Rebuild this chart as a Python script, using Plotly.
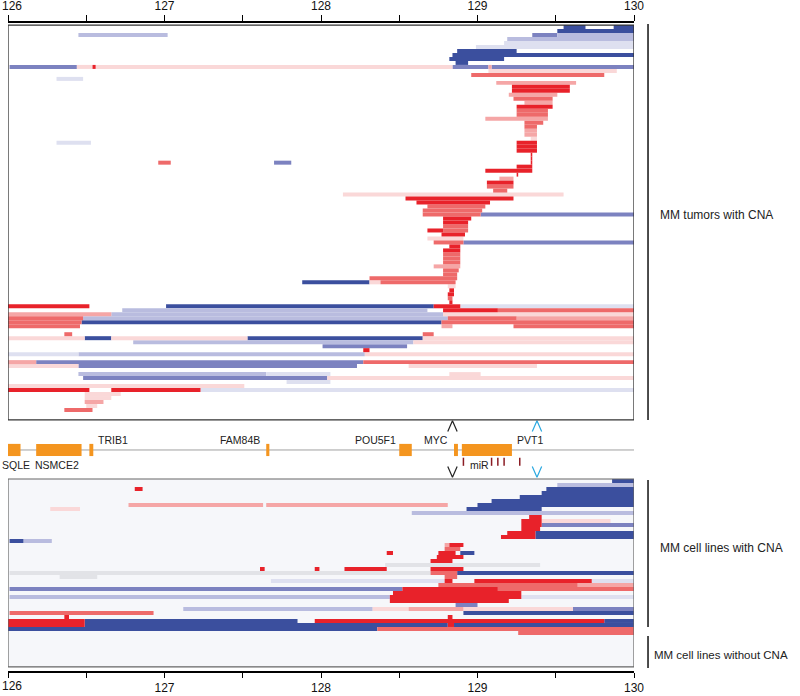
import plotly.graph_objects as go

# ---------------- data ----------------
x_ticks = [126, 126.5, 127, 127.5, 128, 128.5, 129, 129.5, 130]
x_tick_labels = ["", "", "127", "", "128", "", "129", "", "130"]
first_tick_label = "126"

# copy-number level codes: -4 deep loss ... -1 slight loss, 0 neutral, 1 slight gain ... 4 high gain
# MM tumors with CNA (one list entry per tumor, top to bottom)
tumor_starts = [
    [129.55, 129.87], [129.51], [126.45, 129.35, 129.51], [129.19], [129.17], [128.99],
    [128.87], [128.84], [128.82], [128.86],
    [126.01, 126.44, 126.54, 126.56, 128.84, 129.07, 129.09],
    [129.07], [128.96], [126.31], [129.12], [129.22], [129.22], [129.20], [129.23], [129.30],
    [129.25], [129.25], [129.25], [129.05], [129.30], [129.30], [129.30], [129.30], [129.34],
    [126.31, 129.25], [129.25], [129.25], [129.34], [129.34], [126.96, 127.70, 129.34],
    [129.25], [129.05], [129.25], [129.14], [129.06], [129.06], [129.10], [128.14], [128.54],
    [128.61], [128.68], [128.65], [128.65, 129.02], [128.78], [128.78], [128.78],
    [128.68, 128.78], [128.77], [128.68], [128.72, 128.91], [128.82], [128.78], [128.78],
    [128.78], [128.78], [128.72], [128.78], [128.78], [128.31], [127.88, 128.31, 128.38],
    [128.81], [128.82], [128.81], [128.81], [128.82],
    [126.00, 127.01, 128.72, 128.89], [126.73, 128.78, 129.13], [126.00, 126.66, 128.78],
    [126.00, 126.48, 128.81, 129.25], [126.00, 126.47, 128.77], [126.00, 128.77, 129.23],
    [], [126.36, 128.65], [126.00, 126.49, 126.66, 127.53, 128.65], [126.80, 128.59],
    [128.01], [128.27], [126.00, 126.45, 128.28], [], [126.00, 126.18, 128.27],
    [126.00, 126.45, 128.56], [], [126.45, 127.65, 128.82], [126.48, 128.04], [127.78],
    [126.00], [126.00, 126.66, 127.23], [126.49], [126.49], [126.49], [126.50], [126.36],
    [], [],
]
tumor_ends = [
    [129.69, 130.0], [130.0], [127.02, 129.51, 130.0], [130.0], [130.0], [130.0],
    [129.25], [130.0], [129.17], [128.94],
    [126.44, 126.54, 126.56, 128.84, 129.07, 129.09, 130.0],
    [129.89], [129.81], [126.48], [129.63], [129.59], [129.59], [129.51], [129.48], [129.48],
    [129.48], [129.45], [129.45], [129.45], [129.42], [129.38], [129.38], [129.38], [129.38],
    [126.53, 129.38], [129.38], [129.38], [129.35], [129.35], [127.04, 127.81, 129.35],
    [129.35], [129.35], [129.26], [129.23], [129.23], [129.23], [129.19], [129.55], [129.23],
    [129.08], [129.05], [129.03], [129.02, 130.0], [128.96], [128.94], [128.94],
    [128.78, 128.94], [128.92], [128.91], [128.91, 130.0], [128.89], [128.89], [128.89],
    [128.89], [128.89], [128.89], [128.88], [128.87], [128.87], [128.31, 128.38, 128.86],
    [128.86], [128.85], [128.85], [128.84], [128.84],
    [126.52, 128.72, 128.89, 130.0], [128.68, 129.13, 130.0], [126.66, 128.78, 130.0],
    [126.48, 128.81, 129.25, 130.0], [126.47, 128.77, 130.0], [126.46, 128.84, 130.0],
    [], [126.41, 128.72], [126.49, 126.66, 127.53, 128.65, 130.0], [128.59, 130.0],
    [128.55], [128.31], [126.45, 128.28, 130.0], [], [126.18, 128.27, 130.0],
    [126.45, 128.23, 129.38], [], [127.65, 128.06, 129.02], [128.04, 130.0], [128.06],
    [127.51], [126.52, 127.23, 130.0], [126.72], [126.66], [126.61], [126.57], [126.54],
    [], [],
]
tumor_levels = [
    [-4, -4], [-4], [-2, -3, -2], [-2], [-1], [-1],
    [-4], [-4], [-4], [-4],
    [-3, 1, 4, 1, -3, 2, -3],
    [1], [3], [-1], [2], [4], [4], [2], [3], [2],
    [4], [3], [3], [2], [3], [3], [2], [2], [1],
    [-1, 4], [4], [4], [4], [4], [3, -3, 4],
    [4], [4], [4], [2], [4], [3], [3], [1], [4],
    [4], [3], [3], [3, -3], [4], [4], [3],
    [4, 3], [4], [1], [3, -3], [4], [4], [3],
    [3], [3], [2], [3], [3], [3], [-4, 1, 3],
    [1], [4], [4], [3], [4],
    [4, -4, 4, -1], [-2, 4, 3], [2, -2, 1],
    [3, -2, 3, 2], [3, -4, 3], [3, 2, 3],
    [], [3, 3], [1, -4, 1, -4, 1], [-2, 1],
    [-3], [4], [-1, -2, 1], [], [2, -3, 3],
    [1, -3, 1], [], [-2, -1, 1], [-3, 1], [-1],
    [1], [4, 4, -1], [1], [1], [2], [1], [3],
    [], [],
]

# MM cell lines (with CNA first, then without CNA)
cell_starts = [
    [129.86], [129.51], [126.81, 129.44], [129.41], [129.27], [129.09],
    [126.77, 127.65, 129.00], [126.27, 128.93], [128.58], [129.33],
    [129.28, 129.41], [129.28, 129.41], [129.28], [129.19, 129.37], [129.15, 129.37],
    [126.01, 126.10], [128.79, 128.82], [128.79], [128.42, 128.75, 128.89], [128.74],
    [128.70], [128.41], [127.61, 127.96, 128.15, 128.70], [126.01, 128.70, 128.87],
    [126.33, 128.79], [127.68, 128.79, 128.98, 129.73], [128.75, 129.64],
    [126.01, 128.52, 129.13], [128.46], [126.01, 128.44, 129.28], [128.44], [128.86],
    [127.12, 128.33, 128.56, 128.91, 129.61], [126.01, 128.91], [126.36, 128.81],
    [126.00, 126.49, 127.96, 129.81], [126.00, 126.49, 128.81, 128.85],
    [126.00, 128.36], [129.26],
    [], [], [], [], [], [], [], [],
]
cell_ends = [
    [130.0], [130.0], [126.86, 130.0], [130.0], [130.0], [130.0],
    [127.63, 128.81, 130.0], [126.46, 129.41], [130.0], [129.41],
    [129.41, 129.85], [129.41, 130.0], [129.40], [129.37, 130.0], [129.37, 130.0],
    [126.10, 126.28], [128.82, 128.91], [128.89], [128.46, 128.86, 128.98], [128.91],
    [128.84], [129.40], [127.64, 127.99, 128.42, 128.91], [128.70, 128.87, 130.0],
    [126.57, 128.87], [128.79, 128.84, 129.73, 130.0], [129.64, 130.0],
    [128.52, 129.13, 130.0], [129.28], [128.44, 129.28, 130.0], [129.20], [129.00],
    [128.33, 128.56, 128.91, 129.61, 130.0], [126.93, 130.0], [126.39, 128.84],
    [126.49, 127.85, 129.81, 130.0], [126.49, 128.81, 128.85, 130.0],
    [128.36, 130.0], [130.0],
    [], [], [], [], [], [], [], [],
]
cell_levels = [
    [-4], [-2], [4, -4], [-4], [-4], [-4],
    [2, 2, -4], [1, -4], [-2], [4],
    [4, 1], [4, -3], [4], [4, -4], [4, -4],
    [-4, -2], [2, 4], [3], [4, 4, -4], [4],
    [4], [0], [4, 4, 4, 4], [0, 3, -4],
    [0, 3], [-1, 4, 4, -1], [3, 2],
    [-3, 4, 3], [4], [-2, 4, -1], [4], [-3],
    [-2, 1, 2, 1, -3], [3, -4], [4, 4],
    [4, -4, 4, -4], [4, -4, 4, -4],
    [-4, 3], [3],
    [], [], [], [], [], [], [], [],
]

# gene track
gene_names = ["SQLE", "NSMCE2", "TRIB1", "FAM84B", "POU5F1", "MYC", "PVT1"]
gene_start = [126.00, 126.18, 126.52, 127.65, 128.50, 128.85, 128.90]
gene_end = [126.08, 126.47, 126.545, 127.67, 128.58, 128.875, 129.22]
mir_positions = [128.91, 129.09, 129.13, 129.17, 129.27]
caret_positions = [128.84, 129.38]

# ---------------- styles ----------------
level_colors = {
    -4: "#3b4f9e", -3: "#7c82c0", -2: "#b9bcdf", -1: "#dee0f0", 0: "#e2e3e7",
    1: "#fad8d8", 2: "#f5a6a6", 3: "#ee6a6a", 4: "#e8222a",
}
caret_colors = ["#222222", "#2aa8e0"]
FONT = "Liberation Sans, Arial, sans-serif"
GENE_Y = 0.483


def flatten(starts, ends, levels):
    rows, base, width, lv = [], [], [], []
    for r, (ss, ee, ll) in enumerate(zip(starts, ends, levels)):
        for a, b, l in zip(ss, ee, ll):
            rows.append(r)
            base.append(a)
            width.append(b - a)
            lv.append(l)
    return rows, base, width, lv


fig = go.Figure()


def add_panel(starts, ends, levels, xaxis, yaxis):
    rows, base, width, lv = flatten(starts, ends, levels)
    for level, color in level_colors.items():
        idx = [i for i, v in enumerate(lv) if v == level]
        if not idx:
            continue
        fig.add_trace(go.Bar(
            orientation="h",
            y=[rows[i] for i in idx],
            x=[width[i] for i in idx],
            base=[base[i] for i in idx],
            width=1.0,
            marker=dict(color=color, line=dict(width=0)),
            xaxis=xaxis, yaxis=yaxis, hoverinfo="skip", showlegend=False,
        ))


add_panel(tumor_starts, tumor_ends, tumor_levels, "x2", "y")
add_panel(cell_starts, cell_ends, cell_levels, "x", "y3")

# genes
fig.add_trace(go.Bar(
    orientation="h",
    y=[GENE_Y] * len(gene_names),
    x=[e - s for s, e in zip(gene_start, gene_end)],
    base=gene_start,
    width=0.21,
    marker=dict(color="#f4951f", line=dict(width=0)),
    xaxis="x", yaxis="y2", hoverinfo="skip", showlegend=False,
))

# miR ticks
mx, my = [], []
for p in mir_positions:
    mx += [p, p, None]
    my += [0.21, 0.35, None]
fig.add_trace(go.Scatter(x=mx, y=my, mode="lines", line=dict(color="#8b1c24", width=1.5),
                         xaxis="x", yaxis="y2", hoverinfo="skip", showlegend=False))

# carets
for p, c in zip(caret_positions, caret_colors):
    d = 0.03
    fig.add_trace(go.Scatter(x=[p - d, p, p + d, None, p - d, p, p + d],
                             y=[0.80, 0.985, 0.80, None, 0.20, 0.015, 0.20],
                             mode="lines", line=dict(color=c, width=1.2),
                             xaxis="x", yaxis="y2", hoverinfo="skip", showlegend=False))

# ---------------- layout ----------------
H_TOP = (0.3862, 0.9938)
H_GENE = (0.2969, 0.3862)
H_BOT = (0.0062, 0.2954)

axis_common = dict(
    range=[126, 130], tickvals=x_ticks, ticktext=x_tick_labels,
    ticks="outside", tickwidth=1, tickcolor="#000",
    showline=True, linecolor="#000", linewidth=1.5,
    showgrid=False, zeroline=False, automargin=False,
    ticklabeloverflow="allow",
    tickfont=dict(family=FONT, size=12, color="#111"),
    anchor="free", fixedrange=True,
)

fig.update_layout(
    template="none",
    width=800, height=696,
    margin=dict(l=8, r=166, t=21, b=25, pad=0),
    paper_bgcolor="white", plot_bgcolor="white",
    barmode="overlay",
    font=dict(family=FONT, color="#222"),
    xaxis=dict(axis_common, side="bottom", position=0.0, ticklen=5),
    xaxis2=dict(axis_common, side="top", position=1.0, overlaying="x", ticklen=6),
    yaxis=dict(domain=list(H_TOP), range=[98.5, -0.5], visible=False, anchor="x2", automargin=False),
    yaxis2=dict(domain=list(H_GENE), range=[0, 1], visible=False, anchor="x", automargin=False),
    yaxis3=dict(domain=list(H_BOT), range=[46.5, -0.5], visible=False, anchor="x", automargin=False),
)

shapes = [
    # bottom panel background
    dict(type="rect", xref="x", yref="y3 domain", x0=126, x1=130, y0=0, y1=1,
         fillcolor="#f6f7fa", line=dict(width=0), layer="below"),
    # panel borders
    dict(type="rect", xref="x", yref="y domain", x0=126, x1=130, y0=0, y1=1,
         line=dict(color="#333", width=1.3)),
    dict(type="rect", xref="x", yref="y3 domain", x0=126, x1=130, y0=0, y1=1,
         line=dict(color="#666", width=1.2)),
    # gene track baseline
    dict(type="line", xref="x", yref="y2", x0=126, x1=130, y0=GENE_Y, y1=GENE_Y,
         line=dict(color="#a0a0a0", width=1), layer="below"),
    # right-side group brackets
    dict(type="line", xref="paper", yref="paper", x0=1.0224, x1=1.0224, y0=0.3862, y1=0.9954,
         line=dict(color="#111", width=1.5)),
    dict(type="line", xref="paper", yref="paper", x0=1.0224, x1=1.0224, y0=0.0677, y1=0.2938,
         line=dict(color="#111", width=1.5)),
    dict(type="line", xref="paper", yref="paper", x0=1.0224, x1=1.0224, y0=0.0046, y1=0.0538,
         line=dict(color="#111", width=1.5)),
]
fig.update_layout(shapes=shapes)

ann = []
tick_font = dict(family=FONT, size=12, color="#111")
# first tick label, kept inside the page edge
ann.append(dict(x=-0.0128, y=1.0, xref="paper", yref="paper", text=first_tick_label,
                showarrow=False, xanchor="left", yanchor="bottom", yshift=6, font=tick_font))
ann.append(dict(x=-0.0128, y=0.0, xref="paper", yref="paper", text=first_tick_label,
                showarrow=False, xanchor="left", yanchor="top", yshift=-6, font=tick_font))

lab_font = dict(family=FONT, size=10.5, color="#222")
side_font = dict(family=FONT, size=12, color="#222")
ann.append(dict(x=1.038, y=0.7015, xref="paper", yref="paper", text="MM tumors with CNA",
                showarrow=False, xanchor="left", yanchor="middle", font=side_font))
ann.append(dict(x=1.038, y=0.1892, xref="paper", yref="paper", text="MM cell lines with CNA",
                showarrow=False, xanchor="left", yanchor="middle", font=side_font))
ann.append(dict(x=1.029, y=0.0246, xref="paper", yref="paper", text="MM cell lines without CNA",
                showarrow=False, xanchor="left", yanchor="middle",
                font=dict(family=FONT, size=11.5, color="#222")))

# gene labels
ABOVE, BELOW = 0.66, 0.22
label_spec = {
    "SQLE": (-0.0125, BELOW, "left", "paper"),
    "NSMCE2": (126.31, BELOW, "center", "x"),
    "TRIB1": (126.56, ABOVE, "left", "x"),
    "FAM84B": (127.625, ABOVE, "right", "x"),
    "POU5F1": (128.49, ABOVE, "right", "x"),
    "MYC": (128.825, ABOVE, "right", "x"),
    "PVT1": (129.24, ABOVE, "left", "x"),
}
for g in gene_names:
    gx, gy, anc, xr = label_spec[g]
    ann.append(dict(x=gx, y=gy, xref=xr, yref="y2", text=g, showarrow=False,
                    xanchor=anc, yanchor="middle", font=lab_font))
ann.append(dict(x=129.015, y=BELOW, xref="x", yref="y2", text="miR", showarrow=False,
                xanchor="center", yanchor="middle", font=lab_font))
fig.update_layout(annotations=ann)

fig.write_html(
    "out.html",
    config={"displayModeBar": False, "staticPlot": True},
    post_script="document.body.style.margin='0';document.body.style.padding='0';",
)
